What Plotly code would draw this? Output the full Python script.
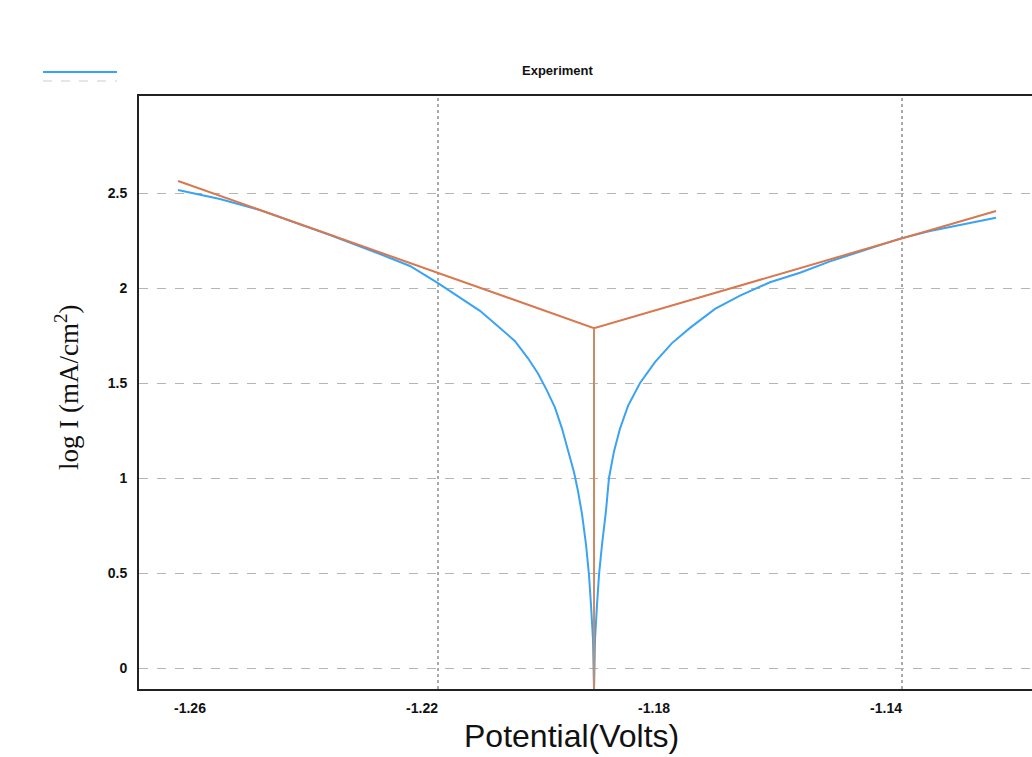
import plotly.graph_objects as go

# ---- data ----
blue_potential = [-1.26483, -1.25759, -1.25069, -1.24552, -1.23862, -1.23000, -1.22483,
                  -1.22000, -1.21621, -1.21276, -1.20931, -1.20672, -1.20448, -1.20276,
                  -1.20121, -1.19983, -1.19862, -1.19759, -1.19655, -1.19586, -1.19517,
                  -1.19448, -1.19397, -1.19362, -1.19328, -1.19310,
                  -1.19293, -1.19259, -1.19224, -1.19172, -1.19103, -1.19052, -1.18966,
                  -1.18862, -1.18724, -1.18517, -1.18259, -1.17966, -1.17655, -1.17224,
                  -1.16793, -1.16276, -1.15759, -1.15241, -1.14724, -1.14034, -1.13517,
                  -1.13000, -1.12379]
blue_logI = [2.516, 2.468, 2.41, 2.353, 2.279, 2.179, 2.116,
             2.026, 1.95, 1.88, 1.79, 1.72, 1.63, 1.55,
             1.46, 1.37, 1.26, 1.15, 1.03, 0.93, 0.81,
             0.65, 0.49, 0.33, 0.15, -0.12,
             0.15, 0.33, 0.49, 0.65, 0.83, 1.0, 1.14,
             1.26, 1.38, 1.5, 1.61, 1.71, 1.79, 1.89,
             1.96, 2.03, 2.08, 2.14, 2.19, 2.26, 2.30,
             2.33, 2.37]

# Tafel extrapolation lines (cathodic end, corrosion point, anodic end)
tafel_potential = [-1.2648, -1.1931, -1.1238]
tafel_logI = [2.563, 1.789, 2.405]
ecorr = -1.1931
tafel_drop_logI = [1.789, -0.12]

x_ticks = [-1.26, -1.22, -1.18, -1.14]
x_tick_labels = ["-1.26", "-1.22", "-1.18", "-1.14"]
x_grid = [-1.22, -1.14]
y_ticks = [0, 0.5, 1, 1.5, 2, 2.5]
y_tick_labels = ["0", "0.5", "1", "1.5", "2", "2.5"]

W, H = 1032, 757
L, R, T, B = 139, 0, 96, 68
pw, ph = W - L - R, H - T - B


def px(xp):
    return (xp - L) / pw


def py(yp):
    return (H - B - yp) / ph


fig = go.Figure()
fig.add_trace(go.Scatter(x=blue_potential, y=blue_logI, mode="lines",
                         line=dict(color="#3aa3f2", width=2), showlegend=False))
fig.add_trace(go.Scatter(x=tafel_potential, y=tafel_logI, mode="lines",
                         line=dict(color="#d9774f", width=2), showlegend=False))
fig.add_trace(go.Scatter(x=[ecorr, ecorr], y=tafel_drop_logI, mode="lines",
                         line=dict(color="#c98a64", width=2), showlegend=False))

for g in x_grid:
    fig.add_vline(x=g, line=dict(color="#555555", width=1, dash="dot"), layer="below")

fig.update_xaxes(range=[-1.27155, -1.11759], tickvals=x_ticks,
                 ticktext=["<b>%s</b>" % t for t in x_tick_labels],
                 showgrid=False, zeroline=False, showline=True, mirror=True,
                 linecolor="#222222", linewidth=2, ticks="",
                 tickfont=dict(family="Liberation Sans", size=14, color="#111111"),
                 ticklabelshift=-16, ticklabelstandoff=5)
fig.update_yaxes(range=[-0.1105, 3.0105], tickvals=y_ticks,
                 ticktext=["<b>%s</b>" % t for t in y_tick_labels],
                 showgrid=True, gridcolor="#b5b5b5", griddash="dash", gridwidth=1,
                 zeroline=False, showline=True, mirror=False,
                 linecolor="#222222", linewidth=2, ticks="",
                 tickfont=dict(family="Liberation Sans", size=14, color="#111111"),
                 ticklabelstandoff=7)

annotations = [
    dict(text="<b>Experiment</b>", x=px(557), y=py(70), xref="paper", yref="paper",
         xanchor="center", yanchor="middle", showarrow=False,
         font=dict(family="Liberation Sans", size=13, color="#111111")),
    dict(text="Potential(Volts)", x=px(571), y=py(736), xref="paper", yref="paper",
         xanchor="center", yanchor="middle", showarrow=False,
         font=dict(family="Liberation Sans", size=32, color="#111111")),
    dict(text="log I (mA/cm<sup>2</sup>)", x=px(67), y=py(388), xref="paper", yref="paper",
         xanchor="center", yanchor="middle", showarrow=False, textangle=-90,
         font=dict(family="Liberation Serif", size=27, color="#111111")),
]

shapes = [
    dict(type="rect", xref="paper", yref="paper", x0=px(25), x1=px(97), y0=py(540), y1=py(262),
         line=dict(color="#dddddd", width=1, dash="dot")),
    dict(type="line", xref="paper", yref="paper", x0=px(43), x1=px(117), y0=py(62), y1=py(62),
         line=dict(color="#e6e2cf", width=1, dash="dot")),
    dict(type="line", xref="paper", yref="paper", x0=px(43), x1=px(117), y0=py(72), y1=py(72),
         line=dict(color="#3aa3f2", width=2)),
    dict(type="line", xref="paper", yref="paper", x0=px(43), x1=px(117), y0=py(81), y1=py(81),
         line=dict(color="#cccccc", width=1, dash="dash")),
]

fig.update_layout(width=W, height=H, margin=dict(l=L, r=R, t=T, b=B),
                  plot_bgcolor="white", paper_bgcolor="white",
                  annotations=annotations, shapes=shapes, showlegend=False)

fig.write_html("out.html")
